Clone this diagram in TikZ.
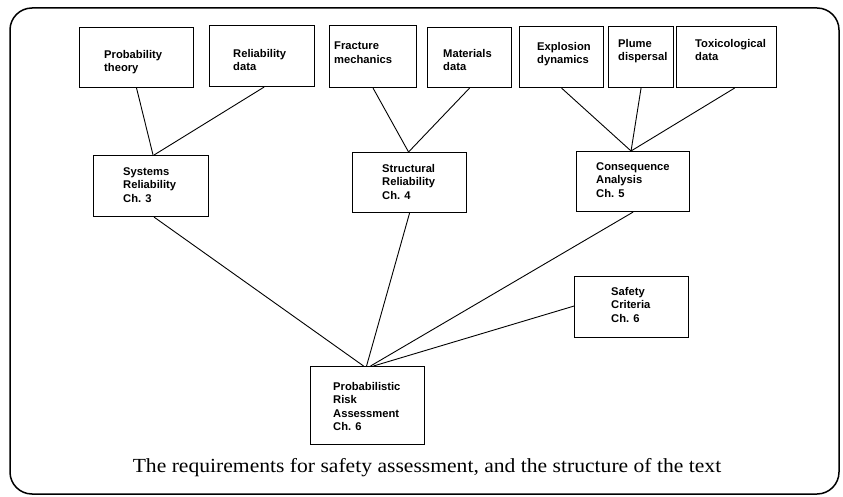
\documentclass[tikz,border=0pt]{standalone}
\usepackage{fontspec}
\setmainfont{Liberation Serif}
\newfontfamily\boxfont{Liberation Sans}
\begin{document}
\begin{tikzpicture}[x=1pt,y=-1pt,
  box/.style={draw, line width=1.1pt, rectangle, inner sep=0pt, anchor=north west},
  lbl/.style={font=\boxfont\bfseries\fontsize{11.2}{13.5}\selectfont, align=left, anchor=north west, inner sep=0pt},
  conn/.style={line width=0.9pt},
  frame/.style={line width=1.5pt, rounded corners=22pt}]
\useasboundingbox (0,0) rectangle (843,497);
\draw[frame] (10,8) rectangle (839,494);
% top row
\node[box, minimum width=114, minimum height=60] (pt) at (79,27) {};
\node[lbl] (ptt) at (104,50) {Probability\\theory};
\node[box, minimum width=105, minimum height=61] (rd) at (209,25) {};
\node[lbl] (rdt) at (233,49) {Reliability\\data};
\node[box, minimum width=87, minimum height=62] (fm) at (329,25) {};
\node[lbl] (fmt) at (334,42) {Fracture\\mechanics};
\node[box, minimum width=84, minimum height=60] (md) at (427,27) {};
\node[lbl] (mdt) at (443,49) {Materials\\data};
\node[box, minimum width=84, minimum height=61] (ed) at (519,26) {};
\node[lbl] (edt) at (537,42) {Explosion\\dynamics};
\node[box, minimum width=65, minimum height=61] (pd) at (608,26) {};
\node[lbl] (pdt) at (618,39) {Plume\\dispersal};
\node[box, minimum width=100, minimum height=61] (td) at (676,26) {};
\node[lbl] (tdt) at (695,39) {Toxicological\\data};
% middle row
\node[box, minimum width=115, minimum height=61] (sr) at (93,155) {};
\node[lbl] (srt) at (123,167) {Systems\\Reliability\\Ch. 3};
\node[box, minimum width=114, minimum height=60] (st) at (352,152) {};
\node[lbl] (stt) at (382,164) {Structural\\Reliability\\Ch. 4};
\node[box, minimum width=113, minimum height=60] (ca) at (576,151) {};
\node[lbl] (cat) at (596,162) {Consequence\\Analysis\\Ch. 5};
% safety criteria
\node[box, minimum width=114, minimum height=61] (sc) at (574,276) {};
\node[lbl] (sct) at (611,287) {Safety\\Criteria\\Ch. 6};
% PRA
\node[box, minimum width=114, minimum height=78] (pra) at (310,366) {};
\node[lbl] (prat) at (333,382) {Probabilistic\\Risk\\Assessment\\Ch. 6};
% connectors
\draw[conn] (pt.south) -- ([xshift=2]sr.north);
\draw[conn] ([xshift=2]rd.south) -- ([xshift=3]sr.north);
\draw[conn] (fm.south) -- ([xshift=-1]st.north);
\draw[conn] (md.south) -- ([xshift=-1]st.north);
\draw[conn] (ed.south) -- ([xshift=-2]ca.north);
\draw[conn] (pd.south) -- ([xshift=-2]ca.north);
\draw[conn] ([xshift=8]td.south) -- ([xshift=-2]ca.north);
\draw[conn] ([xshift=3]sr.south) -- ([xshift=-4]pra.north);
\draw[conn] (st.south) -- ([xshift=-1]pra.north);
\draw[conn] (ca.south) -- ([xshift=3]pra.north);
\draw[conn] ([yshift=1]sc.west) -- ([xshift=6]pra.north);
% caption
\node[inner sep=0pt] (cap) at (427,468) {\scalebox{1.08}[1]{\fontsize{20}{24}\selectfont The requirements for safety assessment, and the structure of the text}};
\end{tikzpicture}
\end{document}
